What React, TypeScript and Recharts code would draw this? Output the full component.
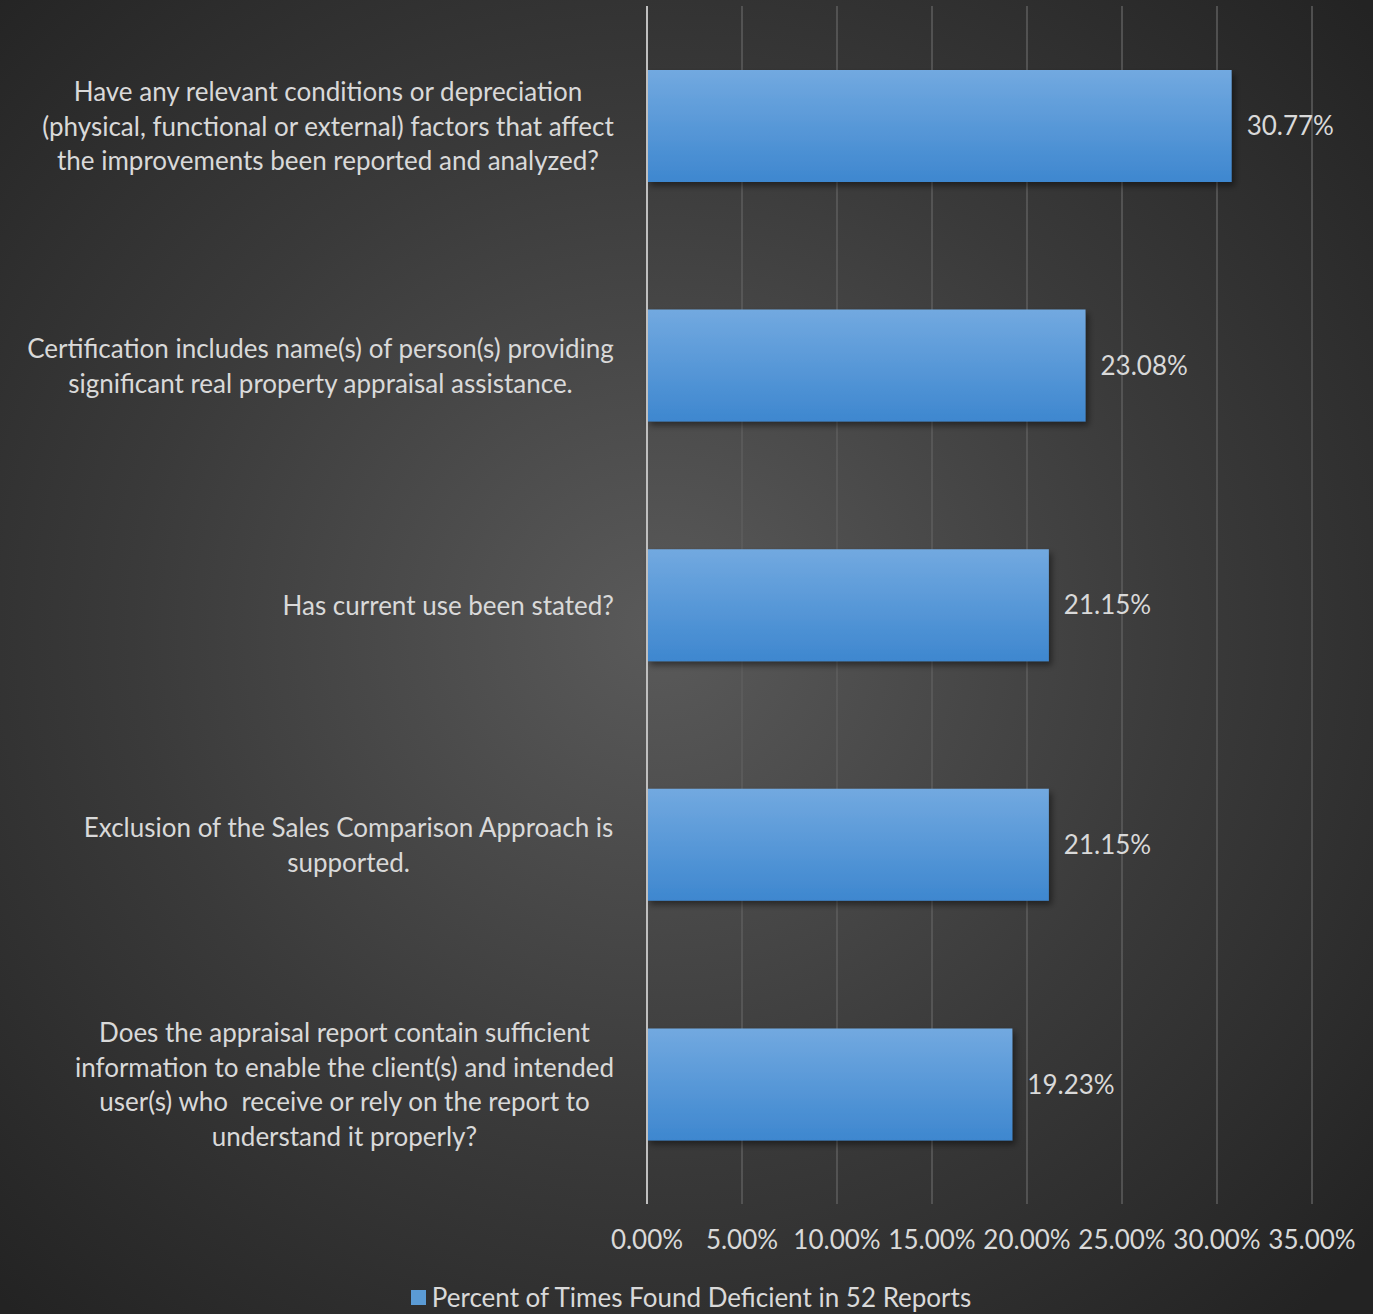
import React from 'react';
import { BarChart, Bar, XAxis, YAxis, CartesianGrid, Legend, LabelList } from 'recharts';

const categories = [
  'Have any relevant conditions or depreciation\n(physical, functional or external) factors that affect\nthe improvements been reported and analyzed?',
  'Certification includes name(s) of person(s) providing\nsignificant real property appraisal assistance.',
  'Has current use been stated?',
  'Exclusion of the Sales Comparison Approach is\nsupported.',
  'Does the appraisal report contain sufficient\ninformation to enable the client(s) and intended\nuser(s) who  receive or rely on the report to\nunderstand it properly?',
];
const deficientShare = [0.3077, 0.2308, 0.2115, 0.2115, 0.1923];
const xTicks = [0, 0.05, 0.1, 0.15, 0.2, 0.25, 0.3, 0.35];
const seriesName = 'Percent of Times Found Deficient in 52 Reports';

const data = categories.map((name, i) => ({ name, value: deficientShare[i] }));

const FONT = 'Lato, "Open Sans", sans-serif';
const TEXT = '#d9d9d9';
const SIZE = 26;

const pct = (v: number) => (v * 100).toFixed(2) + '%';

let ctx: CanvasRenderingContext2D | null = null;
function measure(s: string, size: number) {
  if (!ctx) ctx = document.createElement('canvas').getContext('2d');
  if (!ctx) return s.length * size * 0.5;
  ctx.font = `${size}px Lato`;
  return ctx.measureText(s).width;
}

function CategoryTick(props: any) {
  const { x, y, payload } = props;
  const lines: string[] = String(payload.value).split('\n');
  const lh = 34.5;
  const w = Math.max(...lines.map((l) => measure(l, SIZE)));
  const right = x - 25;
  const cx = right - w / 2;
  const y0 = y - ((lines.length - 1) * lh) / 2;
  return (
    <text
      x={cx}
      y={y0}
      textAnchor="middle"
      fill={TEXT}
      fontSize={SIZE}
      fontFamily={FONT}
      dominantBaseline="central"
      style={{ whiteSpace: 'pre' }}
    >
      {lines.map((l, i) => (
        <tspan key={i} x={cx} y={y0 + i * lh}>
          {l}
        </tspan>
      ))}
    </text>
  );
}

function LegendContent() {
  return (
    <div
      style={{
        display: 'flex',
        justifyContent: 'center',
        alignItems: 'center',
        fontFamily: FONT,
        fontSize: SIZE,
        color: TEXT,
        marginTop: 1,
        paddingLeft: 70,
      }}
    >
      <span style={{ display: 'inline-block', width: 15, height: 15, background: '#5b9bd5', marginRight: 6 }} />
      <span>{seriesName}</span>
    </div>
  );
}

export default function App() {
  return (
    <div
      style={{
        position: 'absolute',
        left: 0,
        top: 0,
        width: 1373,
        height: 1314,
        overflow: 'hidden',
        background: 'radial-gradient(ellipse 70% 70% at 48% 48%, #5a5a5a 0%, #3a3a3a 55%, #232323 100%)',
      }}
    >
      <BarChart
        width={1373}
        height={1314}
        data={data}
        layout="vertical"
        margin={{ top: 6, right: 61, bottom: 0, left: 0 }}
        barCategoryGap={0}
      >
        <defs>
          <linearGradient id="barFill" x1="0" y1="0" x2="0" y2="1">
            <stop offset="0%" stopColor="#72a9e0" />
            <stop offset="100%" stopColor="#3e87cf" />
          </linearGradient>
          <filter id="barShadow" x="-5%" y="-10%" width="115%" height="130%">
            <feDropShadow dx="3" dy="4" stdDeviation="3" floodColor="#000" floodOpacity="0.45" />
          </filter>
        </defs>
        <CartesianGrid horizontal={false} stroke="#5e5e5e" strokeWidth={1.5} />
        <XAxis
          type="number"
          domain={[0, 0.35]}
          ticks={xTicks}
          tickFormatter={pct}
          axisLine={false}
          tickLine={false}
          height={76}
          tick={{ fill: TEXT, fontSize: SIZE, fontFamily: FONT, dy: 19 }}
        />
        <YAxis
          type="category"
          dataKey="name"
          width={647}
          axisLine={{ stroke: '#bfbfbf', strokeWidth: 2 }}
          tickLine={false}
          tick={<CategoryTick />}
          interval={0}
        />
        <Legend verticalAlign="bottom" height={34} content={<LegendContent />} />
        <Bar dataKey="value" name={seriesName} fill="url(#barFill)" barSize={112} isAnimationActive={false} filter="url(#barShadow)">
          <LabelList dataKey="value" position="right" offset={15} formatter={(v: any) => pct(Number(v))} fill={TEXT} fontSize={SIZE} fontFamily={FONT} />
        </Bar>
      </BarChart>
    </div>
  );
}
